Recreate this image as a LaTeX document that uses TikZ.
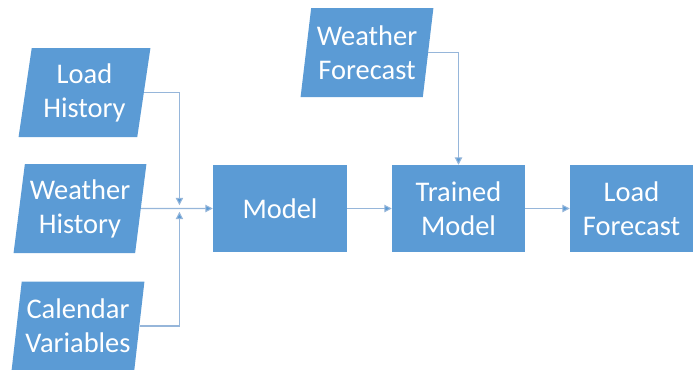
\documentclass[tikz,border=0pt]{standalone}
\usepackage{fontspec}
\setmainfont{Carlito}
\usepackage{tikz}
\usetikzlibrary{shapes.geometric}
\usetikzlibrary{arrows.meta}
\usetikzlibrary{positioning}
\usetikzlibrary{calc}
\definecolor{boxblue}{RGB}{91,155,213}
\definecolor{linkblue}{RGB}{150,182,218}

\tikzset{
    databox/.style={trapezium, trapezium left angle=80, trapezium right angle=100, trapezium stretches=true,
        minimum width=3.99cm, minimum height=2.67cm, inner sep=0pt, fill=boxblue, draw=none,
        text=white, align=center, font=\fontsize{24.3}{29}\selectfont},
    procbox/.style={rectangle, minimum height=2.61cm, inner sep=0pt, fill=boxblue, draw=none,
        text=white, align=center, font=\fontsize{24.3}{29}\selectfont},
    link/.style={draw=linkblue, line width=0.9pt, -{Triangle[length=0.22cm,width=0.22cm,fill=boxblue]}}
}

\begin{document}
\begin{tikzpicture}
        \useasboundingbox (0,0) rectangle (20.85,-11.07);
        \node[procbox, minimum width=4.02cm] (model) at (8.4,-6.255) {Model};
        \node[procbox, minimum width=3.99cm] (trained) at ($(model)+(5.355cm,0)$) {Trained\\Model};
        \node[procbox, minimum width=3.69cm] (forecast) at ($(trained)+(5.19cm,0)$) {Load\\Forecast};
        \node[databox] (weatherfc) at (11.01,-1.575) {Weather\\Forecast};
        \node[databox] (loadhist) at (2.535,-2.775) {Load\\History};
        \node[databox] (weatherhist) at (2.4,-6.255) {Weather\\History};
        \node[databox] (calendar) at (2.34,-9.78) {Calendar\\Variables};
        \coordinate (join) at ($(model.west)+(-1.0cm,0)$);

        \draw[link] (weatherhist.east) -- (model.west);
        \draw[link, shorten >=0.1cm] (loadhist.east) -| (join);
        \draw[link, shorten >=0.1cm] (calendar.east) -| (join);
        \draw[link] (model.east) -- (trained.west);
        \draw[link] (trained.east) -- (forecast.west);
        \draw[link] (weatherfc.east) -| (trained.north);
    \end{tikzpicture}
\end{document}
